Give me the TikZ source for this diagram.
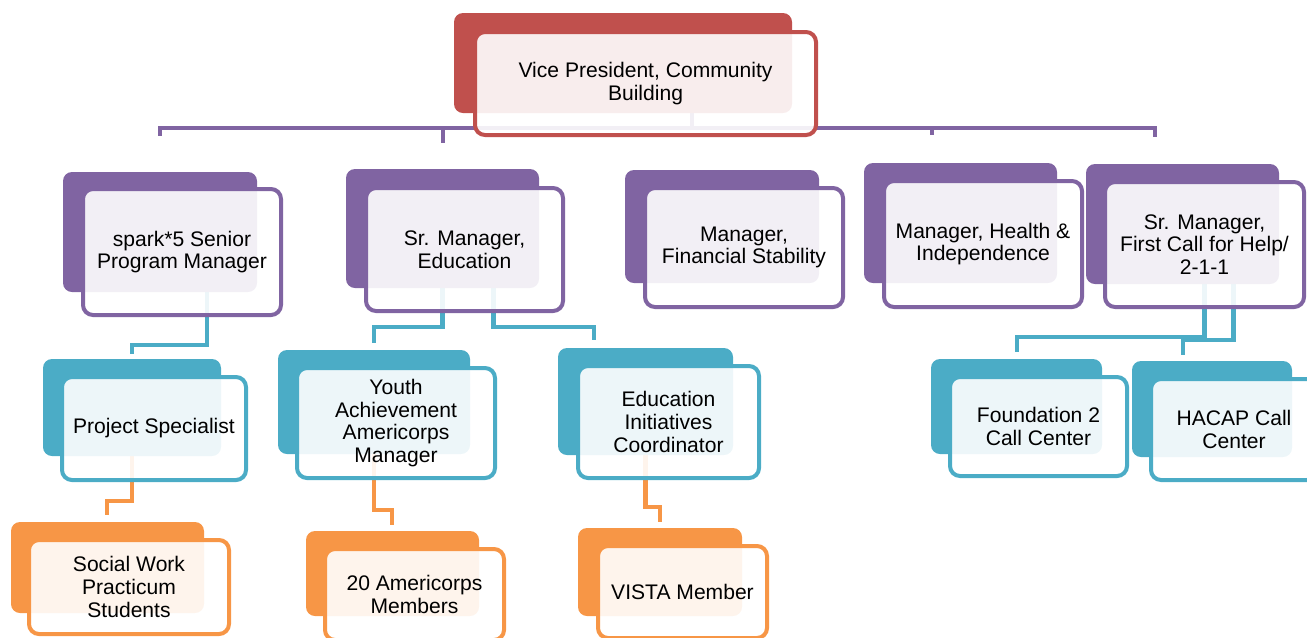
\documentclass[tikz,border=0pt]{standalone}
\usepackage{fontspec}
\setmainfont{Liberation Sans}
\usepackage{tikz}
\definecolor{white}{rgb}{1.0, 1.0, 1.0}
\definecolor{black}{rgb}{0.0, 0.0, 0.0}
\definecolor{vpred}{RGB}{192,80,77}
\definecolor{lpurple}{RGB}{128,100,162}
\definecolor{lteal}{RGB}{75,172,198}
\definecolor{lorange}{RGB}{247,150,70}
\pgfdeclarelayer{edgelayer}
\pgfdeclarelayer{nodelayer}
\pgfsetlayers{edgelayer,nodelayer,main}
\newcommand{\unitpx}{0.02cm}
\tikzstyle{back}=[rectangle,rounded corners=0.18cm,inner sep=0pt,outer sep=0pt]
\tikzstyle{front}=[rectangle,rounded corners=0.2cm,fill=white,fill opacity=0.9,text opacity=1,line width=0.08cm,inner sep=0pt,outer sep=0pt,align=center,font=\fontsize{12}{13}\selectfont]
\tikzstyle{link}=[line width=0.085cm]

\begin{document}
\begin{tikzpicture}[x=\unitpx, y=-\unitpx]
        \useasboundingbox (0, 0) rectangle (1307, 637);
        \begin{pgfonlayer}{nodelayer}
            \node [style = back, fill=vpred, minimum width=338*\unitpx, minimum height=100*\unitpx] (vp_b) at (623, 63) {};
            \node [style = front, draw=vpred, minimum width=341*\unitpx, minimum height=103*\unitpx] (vp) at (645.5, 83.5) {Vice President, Community\\Building};

            \node [style = back, fill=lpurple, minimum width=194*\unitpx, minimum height=120*\unitpx] (spark_b) at (160, 232) {};
            \node [style = front, draw=lpurple, minimum width=198*\unitpx, minimum height=126*\unitpx] (spark) at (182, 252) {spark*5 Senior\\Program Manager};
            \node [style = back, fill=lpurple, minimum width=193*\unitpx, minimum height=119*\unitpx] (edu_b) at (442.5, 228.5) {};
            \node [style = front, draw=lpurple, minimum width=197*\unitpx, minimum height=123*\unitpx] (edu) at (464.5, 249.5) {Sr. Manager,\\Education};
            \node [style = back, fill=lpurple, minimum width=194*\unitpx, minimum height=113*\unitpx] (fin_b) at (722, 226.5) {};
            \node [style = front, draw=lpurple, minimum width=198*\unitpx, minimum height=119*\unitpx] (fin) at (744, 247.5) {Manager,\\Financial Stability};
            \node [style = back, fill=lpurple, minimum width=193*\unitpx, minimum height=120*\unitpx] (hlth_b) at (960.5, 223) {};
            \node [style = front, draw=lpurple, minimum width=198*\unitpx, minimum height=126*\unitpx] (hlth) at (983, 244) {Manager, Health \&\\Independence};
            \node [style = back, fill=lpurple, minimum width=193*\unitpx, minimum height=120*\unitpx] (first_b) at (1182.5, 224) {};
            \node [style = front, draw=lpurple, minimum width=199*\unitpx, minimum height=125*\unitpx] (first) at (1204.5, 244.5) {Sr. Manager,\\First Call for Help/\\2-1-1};

            \node [style = back, fill=lteal, minimum width=178*\unitpx, minimum height=97*\unitpx] (ps_b) at (132, 407.5) {};
            \node [style = front, draw=lteal, minimum width=184*\unitpx, minimum height=103*\unitpx] (ps) at (154, 428.5) {Project Specialist};
            \node [style = back, fill=lteal, minimum width=192*\unitpx, minimum height=104*\unitpx] (youth_b) at (374, 402) {};
            \node [style = front, draw=lteal, minimum width=198*\unitpx, minimum height=110*\unitpx] (youth) at (396, 423) {Youth\\Achievement\\Americorps\\Manager};
            \node [style = back, fill=lteal, minimum width=175*\unitpx, minimum height=107*\unitpx] (ei_b) at (645.5, 401.5) {};
            \node [style = front, draw=lteal, minimum width=181*\unitpx, minimum height=112*\unitpx] (ei) at (668.5, 422) {Education\\Initiatives\\Coordinator};
            \node [style = back, fill=lteal, minimum width=171*\unitpx, minimum height=95*\unitpx] (f2_b) at (1016.5, 406.5) {};
            \node [style = front, draw=lteal, minimum width=177*\unitpx, minimum height=99*\unitpx] (f2) at (1038.5, 426.5) {Foundation 2\\Call Center};
            \node [style = back, fill=lteal, minimum width=160*\unitpx, minimum height=96*\unitpx] (hacap_b) at (1212, 409) {};
            \node [style = front, draw=lteal, minimum width=166*\unitpx, minimum height=101*\unitpx] (hacap) at (1234, 429.5) {HACAP Call\\Center};

            \node [style = back, fill=lorange, minimum width=193*\unitpx, minimum height=91*\unitpx] (sw_b) at (107.5, 567.5) {};
            \node [style = front, draw=lorange, minimum width=200*\unitpx, minimum height=94*\unitpx] (sw) at (129, 587) {Social Work\\Practicum\\Students};
            \node [style = back, fill=lorange, minimum width=173*\unitpx, minimum height=85*\unitpx] (am_b) at (392.5, 573.5) {};
            \node [style = front, draw=lorange, minimum width=179*\unitpx, minimum height=91*\unitpx] (am) at (414.5, 594.5) {20 Americorps\\Members};
            \node [style = back, fill=lorange, minimum width=164*\unitpx, minimum height=88*\unitpx] (vista_b) at (660, 572) {};
            \node [style = front, draw=lorange, minimum width=169*\unitpx, minimum height=92*\unitpx] (vista) at (682.5, 592) {VISTA Member};
        \end{pgfonlayer}

        \begin{pgfonlayer}{edgelayer}
            \coordinate (vp_hub) at (692, 128);
            \coordinate (s_spark) at (160, 136);
            \coordinate (s_edu) at (443, 143);
            \coordinate (s_hlth) at (932, 135);
            \coordinate (s_first) at (1155, 137);

            \coordinate (k_ps) at (132, 345);
            \coordinate (s_ps) at (132, 354);
            \coordinate (k_youth) at (374, 327);
            \coordinate (s_youth) at (374, 343);
            \coordinate (k_ei) at (594, 327);
            \coordinate (s_ei) at (594, 340);
            \coordinate (k_f2) at (1017, 337);
            \coordinate (s_f2) at (1017, 352);
            \coordinate (k_hacap) at (1183, 340);
            \coordinate (s_hacap) at (1183, 355);

            \coordinate (k_sw) at (107, 501);
            \coordinate (s_sw) at (107, 515);
            \coordinate (k_am) at (392, 510);
            \coordinate (s_am) at (392, 525);
            \coordinate (k_vista) at (660, 507);
            \coordinate (s_vista) at (660, 522);

            \draw [style = link, lpurple] (vp_b.center) -| (vp_hub) -| (s_spark);
            \draw [style = link, lpurple] (vp_hub) -| (s_edu);
            \draw [style = link, lpurple] (vp_hub) -| (s_hlth);
            \draw [style = link, lpurple] (vp_hub) -| (s_first);

            \draw [style = link, lteal] (spark_b.center) ++(47, 0) |- (k_ps) -- (s_ps);
            \draw [style = link, lteal] (edu_b.center) |- (k_youth) -- (s_youth);
            \draw [style = link, lteal] (edu_b.center) ++(51, 0) |- (k_ei) -- (s_ei);
            \draw [style = link, lteal] (first_b.center) ++(22, 0) |- (k_f2) -- (s_f2);
            \draw [style = link, lteal] (first_b.center) ++(51, 0) |- (k_hacap) -- (s_hacap);

            \draw [style = link, lorange] (ps_b.center) |- (k_sw) -- (s_sw);
            \draw [style = link, lorange] (youth_b.center) |- (k_am) -- (s_am);
            \draw [style = link, lorange] (ei_b.center) |- (k_vista) -- (s_vista);
        \end{pgfonlayer}
    \end{tikzpicture}
\end{document}
